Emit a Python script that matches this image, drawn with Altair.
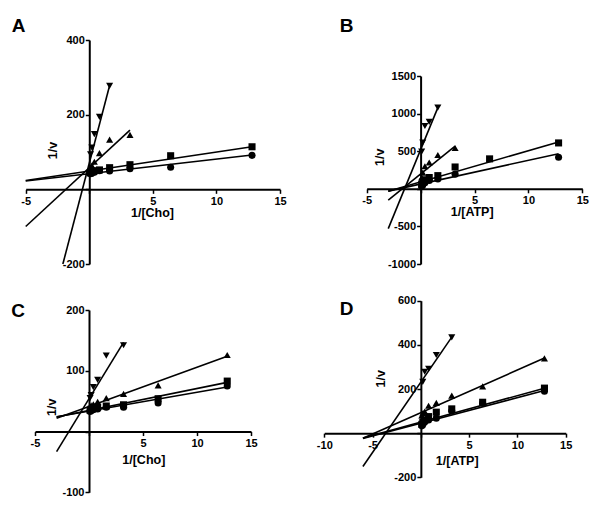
import altair as alt
import pandas as pd

# ---------------- data ----------------
SERIES = ["circle", "square", "triangle-up", "triangle-down"]
SHAPES = ["circle", "square", "triangle-up", "triangle-down"]

X8 = [12.8, 6.4, 3.2, 1.6, 0.8, 0.4, 0.2, 0.1]
X6 = [3.2, 1.6, 0.8, 0.4, 0.2, 0.1]
X5_lo = [1.6, 0.8, 0.4, 0.2, 0.1]
X5_hi = [3.2, 1.6, 0.8, 0.4, 0.2]
X7_no64 = [12.8, 3.2, 1.6, 0.8, 0.4, 0.2, 0.1]

# Panel A  (1/[Cho])
a_x = [X8, X8, X6, X5_lo]
a_y = [
    [91, 59, 55, 49, 50, 46, 44, 42],
    [114, 90, 66, 58, 52, 50, 47, 44],
    [146, 133, 97, 74, 64, 56],
    [277, 194, 148, 112, 94],
]
a_slope = [3.9, 5.1, 31.5, 130]
a_icpt = [42, 49, 58, 70]

# Panel B  (1/[ATP])
b_x = [X7_no64, X8, X6, X5_lo]
b_y = [
    [419, 195, 130, 110, 80, 50, 30],
    [610, 398, 290, 175, 150, 120, 90, 60],
    [543, 450, 350, 300, 215, 150],
    [1080, 890, 835, 615, 495],
]
b_slope = [31.5, 41.5, 116, 350]
b_icpt = [64, 92, 196, 520]

# Panel C  (1/[Cho])
c_x = [X8, X8, X8, X6]
c_y = [
    [75, 47, 40, 40, 37, 36, 35, 33],
    [83, 54, 44, 42, 40, 39, 37, 35],
    [126, 76, 62, 55, 49, 45, 43, 40],
    [142, 125, 85, 73, 60, 55],
]
c_slope = [3.1, 3.6, 6.45, 29]
c_icpt = [33.5, 34.8, 41.4, 54]

# Panel D  (1/[ATP])
d_x = [X8, X8, X8, X5_hi]
d_y = [
    [190, 135, 100, 68, 60, 50, 40, 33],
    [204, 140, 110, 95, 75, 60, 50, 40],
    [339, 212, 170, 137, 124, 98, 90, 80],
    [434, 354, 292, 278, 232],
]
d_slope = [11.6, 12.0, 19.3, 63.7]
d_icpt = [45, 50, 93, 231]

# ---------------- layout ----------------
W = 584
H = 500
FONT = "Liberation Sans"
LABEL = "datum.value == 0 ? '' : '' + datum.value"

panels = [
    dict(letter="A", lpos=(-6.1, 422), xs=a_x, ys=a_y, m=a_slope, b=a_icpt, xtitle="1/[Cho]",
         xdom=[-5, 15], xticks=[-5, 0, 5, 10, 15], ydom=[-200, 400], yticks=[-200, 0, 200, 400],
         line_start=-5, xr=[17.7, 272], yr=[256, 32],
         xt=(144, 23.5), yt=(-37, 142)),
    dict(letter="B", lpos=(-7.5, 2090), xs=b_x, ys=b_y, m=b_slope, b=b_icpt, xtitle="1/[ATP]",
         xdom=[-5, 15], xticks=[-5, 0, 5, 10, 15], ydom=[-1000, 1500],
         yticks=[-1000, -500, 0, 500, 1000, 1500],
         line_start=-3, xr=[358.7, 574.3], yr=[256, 68],
         xt=(463.7, 23), yt=(-40.7, 148.7)),
    dict(letter="C", lpos=(-7.2, 188), xs=c_x, ys=c_y, m=c_slope, b=c_icpt, xtitle="1/[Cho]",
         xdom=[-5, 15], xticks=[-5, 0, 5, 10, 15], ydom=[-100, 200], yticks=[-100, 0, 100, 200],
         line_start=-3, xr=[27, 243], yr=[484.3, 302],
         xt=(135.3, 28.3), yt=(-37.3, 398.7)),
    dict(letter="D", lpos=(-8.4, 535), xs=d_x, ys=d_y, m=d_slope, b=d_icpt, xtitle="1/[ATP]",
         xdom=[-10, 15], xticks=[-10, -5, 0, 5, 10, 15], ydom=[-200, 600],
         yticks=[-200, 0, 200, 400, 600],
         line_start=-6, xr=[316.3, 557.7], yr=[469.3, 292.7],
         xt=(448.7, 27.4), yt=(-40.7, 370.3)),
]


def make_panel(p):
    rows = []
    for s, xs, ys in zip(SERIES, p["xs"], p["ys"]):
        for xv, yv in zip(xs, ys):
            rows.append({"series": s, "x": xv, "y": yv})
    pts = pd.DataFrame(rows)

    lrows = []
    for s, xs, m, b in zip(SERIES, p["xs"], p["m"], p["b"]):
        xs0 = p["line_start"]
        if m * xs0 + b < p["ydom"][0]:
            xs0 = (p["ydom"][0] - b) / m
        xe = max(xs)
        lrows.append({"series": s, "x": xs0, "y": m * xs0 + b})
        lrows.append({"series": s, "x": xe, "y": m * xe + b})
    lines = pd.DataFrame(lrows)

    lab = pd.DataFrame([{"x": p["lpos"][0], "y": p["lpos"][1], "t": p["letter"]}])

    x0, x1 = p["xdom"]
    y0, y1 = p["ydom"]
    rx0, rx1 = p["xr"]
    ry0, ry1 = p["yr"]
    xpix0 = rx0 + (0 - x0) / (x1 - x0) * (rx1 - rx0)
    ypix0 = ry0 + (0 - y0) / (y1 - y0) * (ry1 - ry0)

    common = dict(domainColor="black", domainWidth=2, tickColor="black", tickWidth=1.5,
                  tickSize=4, labelFont=FONT, labelFontWeight="bold", labelFontSize=11,
                  labelColor="black", labelFlush=False, labelOverlap=False, grid=False,
                  titleFont=FONT, titleFontWeight="bold", titleFontSize=12.5,
                  titleColor="black", titleBaseline="middle", titleAlign="center")

    xenc = alt.X("x:Q", scale=alt.Scale(domain=p["xdom"], range=p["xr"], nice=False, zero=False),
                 axis=alt.Axis(orient="bottom", values=p["xticks"], labelExpr=LABEL,
                               offset=ypix0 - H, title=p["xtitle"], titleX=p["xt"][0],
                               titleY=p["xt"][1], labelPadding=2, **common))
    yenc = alt.Y("y:Q", scale=alt.Scale(domain=p["ydom"], range=p["yr"], nice=False, zero=False),
                 axis=alt.Axis(orient="left", values=p["yticks"], labelExpr=LABEL,
                               offset=-xpix0, title="1/v", titleX=p["yt"][0],
                               titleY=p["yt"][1], labelPadding=1, **common))

    line_layer = alt.Chart(lines).mark_line(color="black", strokeWidth=1.6).encode(
        x=xenc, y=yenc, detail="series:N")
    pt_layer = alt.Chart(pts).mark_point(filled=True, color="black", size=50, opacity=1).encode(
        x=xenc, y=yenc,
        shape=alt.Shape("series:N", scale=alt.Scale(domain=SERIES, range=SHAPES), legend=None))
    txt_layer = alt.Chart(lab).mark_text(align="left", baseline="alphabetic", font=FONT,
                                         fontSize=19, fontWeight="bold", color="black").encode(
        x=xenc, y=yenc, text="t:N")

    return alt.layer(line_layer, pt_layer, txt_layer)


chart = alt.layer(*[make_panel(p) for p in panels]).resolve_scale(
    x="independent", y="independent").resolve_axis(
    x="independent", y="independent").properties(
    width=W, height=H, padding=0, background="white").configure_view(stroke=None)

chart.save("out.html", embed_options={"renderer": "svg", "actions": False})
